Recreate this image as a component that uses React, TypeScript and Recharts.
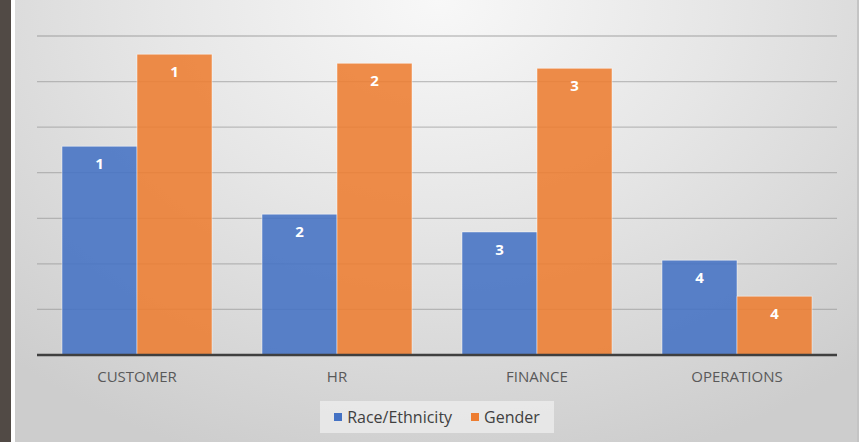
import React from "react";
import { BarChart, Bar, XAxis, YAxis, CartesianGrid, LabelList } from "recharts";

const categories = ["CUSTOMER", "HR", "FINANCE", "OPERATIONS"];
const raceValues = [4.58, 3.09, 2.7, 2.08];
const genderValues = [6.6, 6.4, 6.29, 1.29];
const raceRanks = ["1", "2", "3", "4"];
const genderRanks = ["1", "2", "3", "4"];
const yTicks = [0, 1, 2, 3, 4, 5, 6, 7];
const seriesNames = ["Race/Ethnicity", "Gender"];
const seriesColors = ["#4472C4", "#ED7D31"];

const data = categories.map((c, i) => ({
  name: c,
  race: raceValues[i],
  gender: genderValues[i],
  raceRank: raceRanks[i],
  genderRank: genderRanks[i],
}));

const FONT = "'Open Sans', 'Noto Sans', sans-serif";

export default function App() {
  return (
    <div
      style={{
        position: "fixed",
        left: 0,
        top: 0,
        width: 859,
        height: 442,
        overflow: "hidden",
        background: "#514a45",
        fontFamily: FONT,
      }}
    >
      <div
        style={{
          position: "absolute",
          left: 11,
          top: 0,
          width: 4,
          height: 442,
          background: "#ffffff",
        }}
      />
      <div
        style={{
          position: "absolute",
          left: 15,
          top: 0,
          width: 844,
          height: 442,
          background:
            "radial-gradient(ellipse 75% 110% at 50% 0%, #f8f8f8 0%, #e6e6e6 45%, #cdcdcd 100%)",
        }}
      />
      <div
        style={{
          position: "absolute",
          right: 0,
          top: 0,
          width: 2,
          height: 442,
          background: "#c4c4c4",
        }}
      />
      <div style={{ position: "absolute", left: 0, top: 0 }}>
        <BarChart
          width={859}
          height={442}
          data={data}
          margin={{ top: 36, left: 37, right: 22, bottom: 0 }}
          barCategoryGap={25}
          barGap={0}
        >
          <CartesianGrid
            vertical={false}
            stroke="#8c8c8c"
            strokeOpacity={0.5}
            strokeWidth={1.3}
          />
          <YAxis hide domain={[0, 7]} ticks={yTicks} />
          <XAxis
            dataKey="name"
            height={87}
            tickLine={false}
            tickMargin={10}
            axisLine={{ stroke: "#3f3f3f", strokeWidth: 2.5 }}
            tick={{ fill: "#595959", fontSize: 15, fontFamily: FONT }}
          />
          <Bar
            dataKey="race"
            name={seriesNames[0]}
            fill={seriesColors[0]}
            fillOpacity={0.88}
            stroke="#ffffff"
            strokeOpacity={0.45}
            strokeWidth={1}
            isAnimationActive={false}
          >
            <LabelList
              dataKey="raceRank"
              position="insideTop"
              offset={12}
              fill="#ffffff"
              fontSize={15}
              fontWeight="bold"
              fontFamily={FONT}
            />
          </Bar>
          <Bar
            dataKey="gender"
            name={seriesNames[1]}
            fill={seriesColors[1]}
            fillOpacity={0.88}
            stroke="#ffffff"
            strokeOpacity={0.45}
            strokeWidth={1}
            isAnimationActive={false}
          >
            <LabelList
              dataKey="genderRank"
              position="insideTop"
              offset={12}
              fill="#ffffff"
              fontSize={15}
              fontWeight="bold"
              fontFamily={FONT}
            />
          </Bar>
        </BarChart>
      </div>
      <div
        style={{
          position: "absolute",
          left: 320,
          top: 401,
          width: 234,
          height: 32,
          background: "rgba(245,245,245,0.6)",
          display: "flex",
          alignItems: "center",
          justifyContent: "center",
          fontSize: 16,
          color: "#404040",
          fontFamily: FONT,
        }}
      >
        {seriesNames.map((n, i) => (
          <div
            key={n}
            style={{
              display: "flex",
              alignItems: "center",
              marginRight: i === 0 ? 19 : 0,
            }}
          >
            <span
              style={{
                display: "inline-block",
                width: 8,
                height: 8,
                background: seriesColors[i],
                marginRight: 5,
              }}
            />
            <span>{n}</span>
          </div>
        ))}
      </div>
    </div>
  );
}
